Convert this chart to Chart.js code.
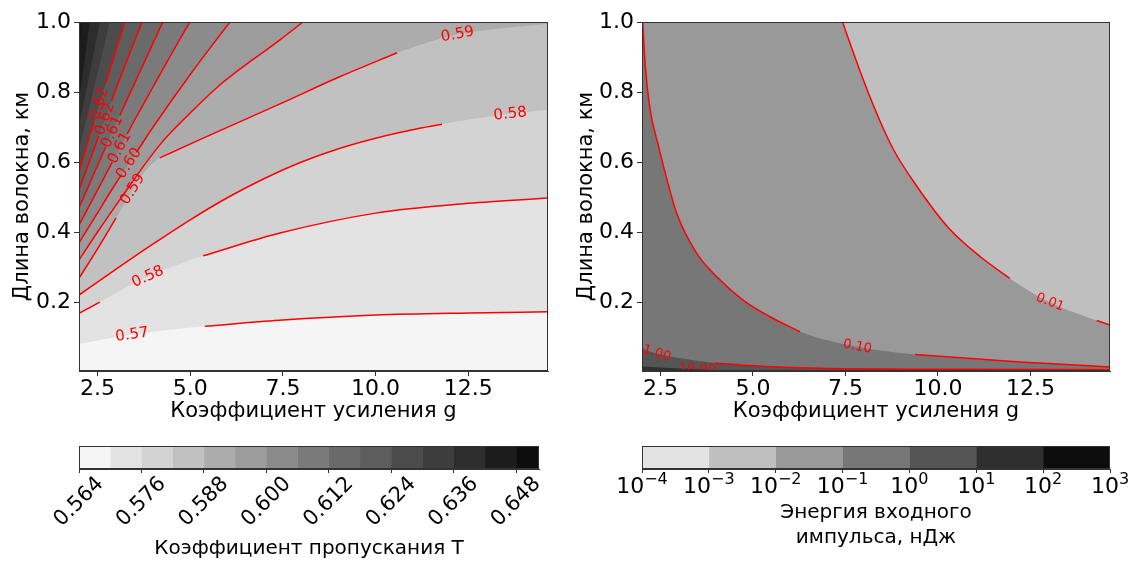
<!DOCTYPE html>
<html lang="ru">
<head>
<meta charset="UTF-8">
<title>Коэффициент пропускания и энергия входного импульса</title>
<script src="https://cdn.jsdelivr.net/npm/chart.js"></script>
<style>
    body { margin: 0; background: #fff; }
    .wrap { position: relative; width: 1130px; height: 562px; overflow: hidden; }
    canvas { position: absolute; }
    #leftPlot { left: 0; top: 0; }
    #rightPlot { left: 565px; top: 0; }
    #leftBar { left: 0; top: 430px; }
    #rightBar { left: 565px; top: 430px; }
</style>
</head>
<body>
<div class="wrap">
    <canvas id="leftPlot" width="565" height="430"></canvas>
    <canvas id="rightPlot" width="565" height="430"></canvas>
    <canvas id="leftBar" width="565" height="132"></canvas>
    <canvas id="rightBar" width="565" height="132"></canvas>
</div>
<script>
    Chart.defaults.font.family = "'DejaVu Sans', sans-serif";
    Chart.defaults.color = '#000';

    // axes shared by both panels
    const gMin = 2, gMax = 14.65;
    const lMin = 0.003, lMax = 1.0;
    const gTicks = [2.5, 5.0, 7.5, 10.0, 12.5];
    const lTicks = [0.2, 0.4, 0.6, 0.8, 1.0];

    // left panel: transmission T. One boundary per level, points are [g, L]
    const tLevels = [0.570, 0.576, 0.582, 0.588, 0.594, 0.600, 0.606, 0.612, 0.618, 0.624, 0.630, 0.636, 0.642, 0.648];
    const tCurves = [
        [[2, 0.080], [3, 0.100], [4, 0.115], [5.4, 0.131], [7.4, 0.148], [10, 0.163], [12.5, 0.169], [14.65, 0.172]],
        [[2, 0.168], [2.56, 0.200], [3.86, 0.272], [5.35, 0.332], [7.42, 0.397], [10, 0.454], [12.5, 0.482], [14.65, 0.497]],
        [[2, 0.220], [3, 0.294], [4, 0.366], [5, 0.435], [6, 0.498], [7, 0.553], [8, 0.600], [9, 0.638], [10, 0.668],
         [11, 0.692], [12, 0.712], [13.2, 0.732], [14.65, 0.749]],
        [[2, 0.268], [2.5, 0.352], [3.1, 0.458], [3.45, 0.522], [3.77, 0.572], [4.18, 0.612], [5.26, 0.664], [7.42, 0.766],
         [9, 0.842], [10.58, 0.912], [12.2, 0.964], [14.65, 0.995]],
        [[2, 0.320], [2.5, 0.400], [3.1, 0.492], [4.18, 0.649], [5.0, 0.740], [5.8, 0.820], [7.42, 0.949], [8.04, 1.0]],
        [[2, 0.369], [2.5, 0.455], [3, 0.540], [3.5, 0.620], [4, 0.700], [5, 0.850], [6.07, 1.0]],
        [[2, 0.420], [2.5, 0.520], [3, 0.620], [3.5, 0.720], [4, 0.815], [4.5, 0.910], [4.99, 1.0]],
        [[2, 0.469], [2.5, 0.590], [3, 0.710], [3.5, 0.825], [4.26, 1.0]],
        [[2, 0.520], [2.5, 0.665], [3, 0.810], [3.70, 1.0]],
        [[2, 0.572], [2.5, 0.750], [3, 0.920], [3.24, 1.0]],
        [[2, 0.635], [2.4, 0.810], [2.83, 1.0]],
        [[2, 0.706], [2.3, 0.860], [2.56, 1.0]],
        [[2, 0.778], [2.15, 0.890], [2.29, 1.0]],
        [[2, 0.864], [2.05, 1.0]]
    ];
    // g ranges where the red line is cut away around its label (null: no red line)
    const tGaps = [
        [[2, 5.4]], [[2.56, 5.35]], [[11.79, 14.65]], [[3.0, 4.18], [10.58, 14.65]],
        [], [[3.15, 3.55]], [[2.9, 3.3]], [[2.72, 3.1]], [[2.53, 2.88]], [[2.4, 2.72]],
        null, null, null, null
    ];
    // contour labels: [level index, g, text]
    const tLabels = [
        [0, 3.43, '0.57'], [1, 3.86, '0.58'], [2, 13.63, '0.58'], [3, 12.21, '0.59'], [3, 3.45, '0.59'],
        [5, 3.35, '0.60'], [6, 3.1, '0.61'], [7, 2.9, '0.61'], [8, 2.7, '0.62'], [9, 2.55, '0.62']
    ];
    // colorbar of T
    const tEdges = [0.564, 0.570, 0.576, 0.582, 0.588, 0.594, 0.600, 0.606, 0.612, 0.618, 0.624, 0.630, 0.636, 0.642, 0.648, 0.6524];
    const tBarTicks = [0.564, 0.576, 0.588, 0.600, 0.612, 0.624, 0.636, 0.648];

    // right panel: input pulse energy E, nJ
    const eLevels = [10, 1, 0.1, 0.01];
    const eCurves = [
        [[2, 0.016], [2.5, 0.013], [3, 0.010], [3.5, 0.008], [4.5, 0.004], [6, 0.001], [14.65, -0.01]],
        [[2, 0.066], [2.5, 0.050], [3, 0.040], [3.98, 0.026], [5, 0.018], [7.08, 0.010], [10, 0.008], [14.65, 0.0066]],
        [[2.02, 1.0], [2.09, 0.872], [2.22, 0.749], [2.45, 0.644], [2.67, 0.552], [2.94, 0.453], [3.48, 0.339], [4.02, 0.272],
         [4.74, 0.205], [5.46, 0.158], [6.27, 0.115], [7.82, 0.072], [9.38, 0.050], [12.22, 0.029], [14.65, 0.0146]],
        [[7.42, 1.0], [7.62, 0.940], [8.0, 0.830], [8.4, 0.725], [8.8, 0.635], [9.4, 0.535], [10.3, 0.410], [11.2, 0.325],
         [12.0, 0.263], [13.0, 0.200], [14.0, 0.158], [14.65, 0.134]]
    ];
    const eGaps = [[[2, 5]], [[2.06, 3.98]], [[6.27, 9.38]], [[11.94, 14.29]]];
    const eLabels = [[0, 3.5, '10.00'], [1, 2.4, '1.00'], [2, 7.82, '0.10'], [3, 13.03, '0.01']];
    const eEdges = [1e-4, 1e-3, 1e-2, 1e-1, 1, 10, 100, 1000];

    // grey levels, lowest value first
    const tColors = ['#f5f5f5', '#e3e3e3', '#d3d3d3', '#c1c1c1', '#acacac', '#9c9c9c', '#8b8b8b', '#7a7a7a',
                     '#6a6a6a', '#5d5d5d', '#4c4c4c', '#3d3d3d', '#2d2d2d', '#1c1c1c', '#0d0d0d'];
    const eColors = ['#e3e3e3', '#bfbfbf', '#999999', '#777777', '#555555', '#2f2f2f', '#0c0c0c'];

    // linear interpolation of L along a curve
    function interp(c, g) {
        let i = 1;
        while (i < c.length - 1 && g > c[i][0]) i++;
        const [x0, y0] = c[i - 1], [x1, y1] = c[i];
        return y0 + (y1 - y0) * (g - x0) / (x1 - x0);
    }

    // red line points with the label gaps removed
    function redPoints(c, gaps) {
        let parts = [[c[0][0], c[c.length - 1][0]]];
        gaps.forEach(([a, b]) => {
            parts = parts.flatMap(([s, e]) => {
                const out = [];
                if (a > s) out.push([s, Math.min(a, e)]);
                if (b < e) out.push([Math.max(b, s), e]);
                return out.filter(p => p[1] > p[0]);
            });
        });
        const pts = [];
        parts.forEach(([s, e], k) => {
            if (k) pts.push({ x: (s + parts[k - 1][1]) / 2, y: null });
            pts.push({ x: s, y: interp(c, s) });
            c.forEach(p => { if (p[0] > s && p[0] < e) pts.push({ x: p[0], y: p[1] }); });
            pts.push({ x: e, y: interp(c, e) });
        });
        return pts;
    }

    // paints the lowest band and the frame around the plot area
    const areaPlugin = (bg) => ({
        id: 'area',
        beforeDatasetsDraw(chart) {
            if (!bg) return;
            const a = chart.chartArea;
            chart.ctx.save();
            chart.ctx.fillStyle = bg;
            chart.ctx.fillRect(a.left, a.top, a.width, a.height);
            chart.ctx.restore();
        },
        afterDraw(chart) {
            const a = chart.chartArea, ctx = chart.ctx;
            ctx.save();
            ctx.strokeStyle = '#333';
            ctx.lineWidth = 1;
            ctx.strokeRect(Math.round(a.left) + 0.5, Math.round(a.top) + 0.5, Math.round(a.width) - 1, Math.round(a.height) - 1);
            ctx.restore();
        }
    });

    // inline contour labels, turned along the curve
    const labelPlugin = (curves, labels, size) => ({
        id: 'contourLabels',
        afterDatasetsDraw(chart) {
            const { ctx, chartArea: a, scales: { x, y } } = chart;
            ctx.save();
            ctx.beginPath();
            ctx.rect(a.left, a.top, a.width, a.height);
            ctx.clip();
            ctx.fillStyle = '#ff0000';
            ctx.font = size + "px 'DejaVu Sans'";
            ctx.textAlign = 'center';
            ctx.textBaseline = 'middle';
            labels.forEach(([li, g, text]) => {
                const c = curves[li], d = 0.03;
                const px = x.getPixelForValue(g), py = y.getPixelForValue(interp(c, g));
                const dx = x.getPixelForValue(g + d) - x.getPixelForValue(g - d);
                const dy = y.getPixelForValue(interp(c, g + d)) - y.getPixelForValue(interp(c, g - d));
                ctx.save();
                ctx.translate(px, py);
                ctx.rotate(Math.atan2(dy, dx));
                ctx.fillText(text, 0, 0);
                ctx.restore();
            });
            ctx.restore();
        }
    });

    function panelScales(yWidth, yTitlePad) {
        return {
            x: {
                type: 'linear', min: gMin, max: gMax,
                afterBuildTicks: s => { s.ticks = gTicks.map(v => ({ value: v })); },
                afterFit: s => { s.height = 59; },
                ticks: { callback: v => v.toFixed(1), font: { size: 22 }, color: '#000', padding: 0, maxRotation: 0 },
                grid: { drawOnChartArea: false, tickLength: 5, color: '#333' },
                border: { color: '#333' },
                title: { display: true, text: 'Коэффициент усиления g', font: { size: 21 }, color: '#000', padding: { top: 0, bottom: 6 } }
            },
            y: {
                type: 'linear', min: lMin, max: lMax,
                afterBuildTicks: s => { s.ticks = lTicks.map(v => ({ value: v })); },
                afterFit: s => { s.width = yWidth; },
                ticks: { callback: v => v.toFixed(1), font: { size: 22 }, color: '#000', padding: 3 },
                grid: { drawOnChartArea: false, tickLength: 5, color: '#333' },
                border: { color: '#333' },
                title: { display: true, text: 'Длина волокна, км', font: { size: 21 }, color: '#000', padding: { top: yTitlePad, bottom: 0 } }
            }
        };
    }

    function contourChart(id, curves, gaps, labels, fills, bg, yWidth, yTitlePad, rightPad, labelSize) {
        const datasets = curves.map((c, i) => ({
            data: c.map(([g, L]) => ({ x: g, y: L })),
            fill: 'end', backgroundColor: fills[i], borderColor: 'rgba(0,0,0,0)', borderWidth: 0,
            pointRadius: 0, cubicInterpolationMode: 'monotone', order: 100 - i
        }));
        curves.forEach((c, i) => {
            if (!gaps[i]) return;
            datasets.push({
                data: redPoints(c, gaps[i]), fill: false, borderColor: '#ff0000', borderWidth: 1.5,
                pointRadius: 0, cubicInterpolationMode: 'monotone', spanGaps: false, order: -1
            });
        });
        return new Chart(document.getElementById(id), {
            type: 'line',
            data: { datasets },
            options: {
                responsive: false, animation: false, events: [],
                layout: { padding: { top: 22, right: rightPad, left: 0, bottom: 0 } },
                plugins: { legend: { display: false }, tooltip: { enabled: false } },
                scales: panelScales(yWidth, yTitlePad)
            },
            plugins: [areaPlugin(bg), labelPlugin(curves, labels, labelSize)]
        });
    }

    contourChart('leftPlot', tCurves, tGaps, tLabels, tColors.slice(1), tColors[0], 79, 10, 17, 15);
    contourChart('rightPlot', eCurves, eGaps, eLabels, [eColors[4], eColors[3], eColors[2], eColors[1]], eColors[5], 77, 9, 20, 13);

    // T colorbar tick labels, turned by 45 degrees and centred on the tick
    const rotatedTicks = (values, fmt) => ({
        id: 'rotTicks',
        afterDraw(chart) {
            const { ctx, scales: { x }, chartArea: a } = chart;
            ctx.save();
            ctx.font = "21px 'DejaVu Sans'";
            ctx.fillStyle = '#000';
            ctx.textAlign = 'center';
            ctx.textBaseline = 'middle';
            values.forEach(v => {
                ctx.save();
                ctx.translate(x.getPixelForValue(v), a.bottom + 33);
                ctx.rotate(-Math.PI / 4);
                ctx.fillText(fmt(v), 0, 0);
                ctx.restore();
            });
            ctx.restore();
        }
    });

    // E colorbar tick labels as 10 with a raised exponent
    const powerTicks = (values) => ({
        id: 'powTicks',
        afterDraw(chart) {
            const { ctx, scales: { x }, chartArea: a } = chart;
            ctx.save();
            ctx.fillStyle = '#000';
            ctx.textBaseline = 'alphabetic';
            ctx.textAlign = 'left';
            values.forEach(v => {
                const p = Math.round(Math.log10(v));
                const exp = p < 0 ? '\u2212' + (-p) : String(p);
                ctx.font = "22px 'DejaVu Sans'";
                const w1 = ctx.measureText('10').width;
                ctx.font = "16px 'DejaVu Sans'";
                const w2 = ctx.measureText(exp).width;
                const x0 = x.getPixelForValue(v) - (w1 + w2) / 2;
                const base = a.bottom + 24;
                ctx.font = "22px 'DejaVu Sans'";
                ctx.fillText('10', x0, base);
                ctx.font = "16px 'DejaVu Sans'";
                ctx.fillText(exp, x0 + w1, base - 9);
            });
            ctx.restore();
        }
    });

    function colorbar(id, edges, colors, xScale, title, leftPad, rightPad, titlePad, extraPlugins) {
        const datasets = colors.map((col, i) => ({
            data: [[edges[i], edges[i + 1]]], backgroundColor: col, borderWidth: 0,
            barPercentage: 1, categoryPercentage: 1, grouped: false
        }));
        return new Chart(document.getElementById(id), {
            type: 'bar',
            data: { labels: ['bar'], datasets },
            options: {
                responsive: false, animation: false, events: [], indexAxis: 'y',
                layout: { padding: { top: 16, left: leftPad, right: rightPad, bottom: 0 } },
                plugins: { legend: { display: false }, tooltip: { enabled: false } },
                scales: {
                    y: { display: false },
                    x: Object.assign({
                        afterFit: s => { s.height = 93; },
                        grid: { drawOnChartArea: false, tickLength: 4, color: '#333' },
                        border: { color: '#333' },
                        ticks: { display: false },
                        title: { display: true, text: title, font: { size: 20, lineHeight: 1.25 }, color: '#000', padding: { top: 0, bottom: titlePad } }
                    }, xScale)
                }
            },
            plugins: [areaPlugin(null)].concat(extraPlugins)
        });
    }

    colorbar('leftBar', tEdges, tColors, {
        type: 'linear', min: tEdges[0], max: tEdges[tEdges.length - 1],
        afterBuildTicks: s => { s.ticks = tBarTicks.map(v => ({ value: v })); }
    }, 'Коэффициент пропускания Т', 79, 26, 1, [rotatedTicks(tBarTicks, v => v.toFixed(3))]);

    colorbar('rightBar', eEdges, eColors, {
        type: 'logarithmic', min: eEdges[0], max: eEdges[eEdges.length - 1],
        afterBuildTicks: s => { s.ticks = eEdges.map(v => ({ value: v })); }
    }, ['Энергия входного', 'импульса, нДж'], 77, 20, 12, [powerTicks(eEdges)]);
</script>
</body>
</html>
